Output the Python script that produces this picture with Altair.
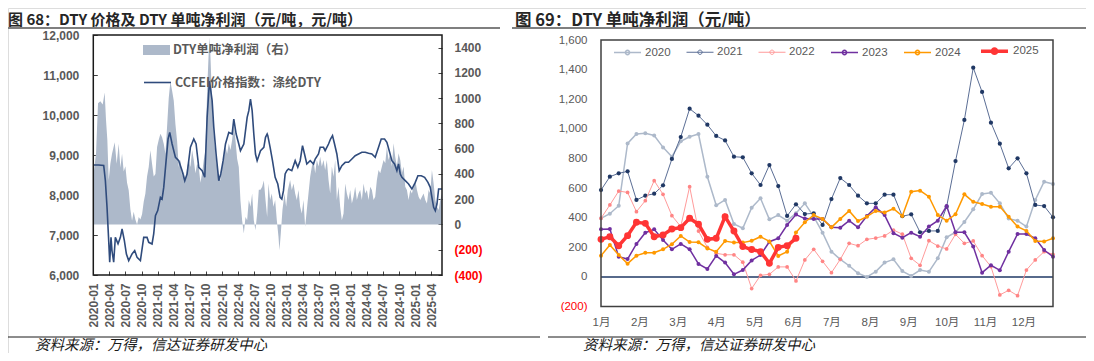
import altair as alt
import pandas as pd

# ---------------- Left panel data (month index from 2020-01) ----------------
PRICE_NAME = "CCFEI价格指数：涤纶DTY"
PROFIT_NAME = "DTY单吨净利润（右）"

price_month = [0, 1.0, 1.94, 2.25, 2.56, 2.87, 3.06, 3.3, 3.49, 3.8, 4.11, 4.61, 5.05, 5.36, 5.79,
               6.17, 6.6, 7.22, 7.72, 8.16, 8.78, 9.4, 10.02, 10.33, 10.95, 11.26, 11.58, 12.01,
               12.51, 12.82, 13.13, 13.57, 13.94, 14.25, 14.69, 15.31, 15.93, 16.55, 17.05, 17.48,
               18.1, 18.73, 19.16, 19.66, 20.28, 20.78, 21.22, 21.65, 21.9, 22.15, 22.46, 22.89,
               23.39, 23.76, 24.2, 24.64, 25.26, 25.88, 26.19, 26.63, 27.12, 27.43, 28.06, 28.68,
               28.99, 29.3, 29.61, 29.92, 30.23, 30.54, 31.17, 31.79, 32.1, 32.41, 32.53, 32.96,
               33.4, 33.9, 34.39, 34.83, 35.14, 35.45, 35.76, 36.07, 36.38, 37.0, 37.63, 38.12,
               38.56, 39.0, 39.37, 39.8, 40.43, 41.05, 41.36, 41.98, 42.29, 42.91, 43.22, 43.85,
               44.22, 44.59, 44.97, 45.4, 45.84, 46.33, 46.96, 47.58, 48.2, 48.82, 49.44, 50.06,
               50.69, 51.31, 51.93, 52.55, 53.17, 53.67, 54.29, 54.73, 55.16, 55.66, 56.16, 56.59,
               56.9, 57.22, 57.53, 58.15, 58.77, 59.39, 60.02, 60.51, 61.13, 61.76, 62.38, 62.81,
               63.12, 63.44, 63.75, 64.06, 64.37, 65.0]
price_value = [8750, 8750, 8740, 8360, 7690, 6860, 6320, 6940, 6600, 6320, 6940, 6780, 6940, 7150, 6860,
               6525, 6360, 6525, 6610, 6440, 6360, 6940, 6940, 6817, 6775, 7025, 7480, 7610,
               7940, 7900, 8190, 8860, 9400, 9567, 9275, 8942, 8858, 8608, 8358, 8525,
               9192, 9400, 9275, 8692, 8608, 8442, 9942, 10850, 10608, 10358, 9692, 9025,
               8358, 8525, 8858, 9275, 9567, 9525, 9900, 9525, 9275, 9108, 9275, 9942,
               10108, 10400, 10108, 9525, 9025, 8858, 9108, 9192, 9442, 9525, 9483, 9192,
               8858, 8442, 8275, 7942, 7900, 8108, 8525, 8608, 8650, 8608, 8858, 8692,
               8858, 9233, 9025, 8775, 8858, 8775, 8900, 9025, 9192, 9192, 9108, 9275,
               9400, 9483, 9275, 9025, 8608, 8733, 8817, 8817, 8900, 8983, 9025, 9067,
               9067, 9042, 9025, 8942, 9192, 9400, 9400, 9317, 9108, 8858, 8775, 8608,
               8775, 8525, 8442, 8358, 8275, 8150, 8317, 8483, 8483, 8442, 8317, 8192,
               7942, 7692, 7608, 7775, 8150, 8150]

profit_month = [0, 0.51, 0.88, 1.31, 1.75, 2.12, 2.37, 2.62, 2.87, 3.18, 3.49, 3.99, 4.36, 4.73, 5.05,
                5.36, 5.67, 5.98, 6.29, 6.6, 6.91, 7.22, 7.53, 7.84, 8.16, 8.47, 8.78, 9.09, 9.4,
                9.71, 10.02, 10.33, 10.64, 10.95, 11.26, 11.58, 11.89, 12.2, 12.51, 12.82, 13.13,
                13.44, 13.75, 14.06, 14.37, 14.69, 15.0, 15.31, 15.62, 15.93, 16.24, 16.55, 16.86,
                17.17, 17.48, 17.8, 18.1, 18.42, 18.73, 19.04, 19.35, 19.66, 19.97, 20.28, 20.59,
                20.9, 21.22, 21.53, 21.71, 22.02, 22.27, 22.52, 22.89, 23.27, 23.7, 24.01, 24.32,
                24.64, 24.95, 25.26, 25.57, 25.88, 26.19, 26.5, 26.81, 27.12, 27.43, 27.75, 28.06,
                28.37, 28.68, 28.99, 29.3, 29.61, 29.92, 30.23, 30.54, 30.85, 31.17, 31.48, 31.79,
                32.1, 32.41, 32.65, 32.96, 33.27, 33.58, 33.9, 34.21, 34.52, 34.7, 34.95, 35.26,
                35.64, 35.95, 36.26, 36.69, 37.0, 37.32, 37.63, 37.94, 38.25, 38.56, 38.87, 39.18,
                39.49, 39.8, 40.11, 40.43, 40.74, 41.05, 41.36, 41.67, 41.98, 42.29, 42.6, 42.91,
                43.22, 43.53, 43.85, 44.16, 44.47, 44.78, 45.09, 45.4, 45.71, 46.02, 46.33, 46.65,
                46.96, 47.27, 47.58, 47.89, 48.2, 48.51, 48.82, 49.13, 49.44, 49.75, 50.06, 50.38,
                50.69, 51.0, 51.31, 51.62, 51.93, 52.24, 52.55, 52.86, 53.17, 53.49, 53.8, 54.11,
                54.42, 54.73, 55.04, 55.35, 55.66, 55.97, 56.28, 56.59, 56.9, 57.22, 57.53, 57.84,
                58.15, 58.46, 58.77, 59.08, 59.39, 59.7, 60.02, 60.33, 60.64, 60.95, 61.26, 61.57,
                61.88, 62.19, 62.5, 62.81, 63.12, 63.44, 63.75, 64.06, 64.37, 64.68, 65.0]
profit_value = [380, 563, 960, 976, 950, 1045, 827, 669, 350, 480, 560, 650, 480, 640, 450,
                560, 420, 460, 330, 270, 120, 30, 100, 40, 0, 60, 40, 80, 180,
                246, 380, 455, 587, 480, 380, 400, 613, 670, 719, 690, 640,
                560, 772, 1000, 1132, 1058, 979, 794, 660, 455, 510, 380, 420,
                349, 450, 510, 455, 587, 510, 405, 480, 455, 330, 405, 510,
                587, 1058, 1380, 1480, 1119, 854, 669, 510, 405, 349, 455, 510,
                616, 560, 643, 590, 669, 802, 669, 520, 455, 190, 30, -71,
                60, 34, 193, 140, 246, 34, -45, 87, 275, 275, 299, 349,
                193, 60, 325, 193, 246, 140, 193, 34, -97, -204, -71, 114,
                246, 140, 272, 352, 272, 325, 246, 193, 272, 140, 87, 193,
                -18, 114, 246, 378, 458, 510, 405, 510, 458, 537, 458, 510,
                431, 510, 352, 246, 458, 378, 510, 193, 299, 140, 34, 87,
                325, 246, 193, 272, 167, 220, 299, 193, 246, 272, 193, 325,
                246, 272, 193, 299, 272, 193, 220, 352, 431, 405, 458, 510,
                484, 616, 510, 563, 458, 643, 537, 458, 563, 510, 405, 458,
                299, 272, 193, 272, 246, 299, 352, 272, 220, 193, 220, 246,
                193, 167, 272, 246, 431, 325, 193, 140, 114, 193, 246]

# ---------------- Right panel data (weekly, 52 weeks) ----------------
years = ["2020", "2021", "2022", "2023", "2024", "2025"]
y2020 = [396, 427, 481, 902, 965, 970, 955, 875, 812, 916, 947, 965, 677, 484, 520, 358, 329, 468,
         531, 389, 418, 380, 430, 497, 407, 299, 171, 119, 76, 25, 0, 36, 97, 119, 40, 7, 47, 36,
         126, 268, 302, 371, 457, 560, 569, 497, 394, 380, 340, 520, 643, 628]
y2021 = [587, 677, 700, 713, 520, 549, 562, 619, 797, 945, 1136, 1089, 1028, 952, 922, 812, 808, 700,
         621, 756, 614, 412, 491, 425, 430, 351, 526, 668, 621, 549, 497, 497, 556, 556, 410, 423,
         302, 311, 311, 475, 783, 1060, 1413, 1249, 1042, 900, 734, 801, 700, 486, 479, 403]
y2022 = [396, 486, 580, 571, 441, 515, 650, 558, 414, 340, 610, 310, 200, 160, 150, 150, 100, -78,
         11, 18, 68, 68, -27, 115, 187, 106, 29, 119, 227, 211, 254, 263, 277, 317, 289, 126, 79,
         245, 209, 189, 288, 227, 243, 144, 70, -121, -90, -126, 47, 115, 171, 153]
y2023 = [322, 324, 137, 121, 223, 299, 322, 250, 187, 223, 187, 88, 54, 142, 97, 18, 47, 112, 148,
         238, 261, 351, 421, 394, 392, 392, 335, 333, 380, 335, 412, 470, 418, 295, 265, 299, 272,
         340, 380, 479, 302, 302, 205, 29, 79, 45, 171, 290, 290, 261, 182, 137]
y2024 = [144, 216, 148, 90, 144, 164, 164, 187, 221, 277, 236, 234, 193, 171, 243, 232, 232, 245,
         272, 240, 142, 171, 300, 370, 418, 392, 335, 392, 446, 378, 407, 446, 435, 461, 412, 576,
         583, 542, 418, 380, 423, 558, 508, 493, 475, 475, 407, 340, 311, 243, 239, 261]
y2025 = [254, 272, 211, 279, 369, 362, 272, 284, 324, 333, 396, 356, 254, 261, 407, 310, 205, 185,
         171, 92, 200, 211, 261]

line_colors = ["#ADB9CA", "#5B6E95", "#FF9B9B", "#7030A0", "#FF9900", "#FF3535"]
dot_colors = ["#ADB9CA", "#203864", "#FF8585", "#7030A0", "#FF9900", "#FF3535"]
line_widths = [1.5, 1.0, 1.0, 1.5, 1.5, 3.5]
dot_sizes = [16, 18, 14, 16, 16, 48]

TITLE_L = "图 68：DTY 价格及 DTY 单吨净利润（元/吨，元/吨）"
TITLE_R = "图 69：DTY 单吨净利润（元/吨）"
SOURCE = "资料来源：万得，信达证券研发中心"

# ---------------- build tables ----------------
price_df = pd.DataFrame({"m": price_month, "v": price_value, "s": PRICE_NAME})
profit_df = pd.DataFrame({"m": profit_month, "v": profit_value, "s": PROFIT_NAME})
rows = []
for yr, vals in zip(years, [y2020, y2021, y2022, y2023, y2024, y2025]):
    for i, v in enumerate(vals):
        rows.append({"w": i, "v": v, "year": yr})
week_df = pd.DataFrame(rows)

W, H = 1078, 345
LAT = "Liberation Sans"
CJK = "Noto Sans CJK SC"
MIX = "Liberation Sans, Noto Sans CJK SC"
GRAY = "#595959"
NEG = {"condition": {"test": "datum.value < 0", "value": "#FF0000"}, "value": GRAY}

# ---------------- left panel ----------------
L_X0, L_X1, L_Y0, L_Y1 = 85.3, 434, 27, 267
lx = alt.X("m:Q",
           scale=alt.Scale(domain=[0, 65], range=[L_X0, L_X1], nice=False, zero=False),
           axis=alt.Axis(orient="bottom", offset=(L_Y1 - 4) - H, values=list(range(0, 64, 3)),
                         labelExpr="(2020 + floor(datum.value / 12)) + '-' + ((datum.value % 12) + 1 < 10 ? '0' : '') + ((datum.value % 12) + 1)",
                         labelAngle=270, domain=False, grid=False, ticks=True, tickSize=4,
                         tickColor="#404040", labelPadding=8, labelFont=LAT, labelFontSize=12,
                         labelFontWeight="bold", labelColor=GRAY, labelFlush=False,
                         labelOverlap=False, title=None))
ly_price = alt.Y("v:Q",
                 scale=alt.Scale(domain=[6000, 12000], range=[L_Y1, L_Y0], nice=False, zero=False),
                 axis=alt.Axis(orient="left", offset=-(L_X0 + 4), values=list(range(6000, 12001, 1000)),
                               labelExpr="format(datum.value, ',')", domain=False, grid=False,
                               ticks=True, tickSize=4, tickColor="#404040", labelPadding=14.5,
                               labelFont=LAT, labelFontSize=12, labelFontWeight="bold",
                               labelColor=GRAY, labelFlush=False, labelOverlap=False, title=None))
ly_profit = alt.Y("v:Q",
                  scale=alt.Scale(domain=[-400, 1500], range=[L_Y1, L_Y0], nice=False),
                  axis=alt.Axis(orient="right", offset=(L_X1 - 4) - W, values=list(range(-400, 1401, 200)),
                                labelExpr="datum.value < 0 ? '(' + (-datum.value) + ')' : '' + datum.value",
                                domain=False, grid=False, ticks=True, tickSize=4, tickColor="#404040",
                                labelPadding=12, labelFont=LAT, labelFontSize=12, labelFontWeight="bold",
                                labelColor=NEG, labelFlush=False, labelOverlap=False, title=None))

area = alt.Chart(profit_df).mark_area(opacity=1, interpolate="linear").encode(
    x=lx, y=ly_profit, y2=alt.datum(0),
    fill=alt.Fill("s:N", scale=alt.Scale(domain=[PROFIT_NAME], range=["#ADB9CA"]),
                  legend=alt.Legend(title=None, orient="none", legendX=135, legendY=28.5,
                                    symbolType="M-1,-0.37H1V0.37H-1Z", symbolSize=729,
                                    symbolStrokeWidth=0, labelFont=CJK, labelFontSize=12.5,
                                    labelFontWeight="bold", labelColor=GRAY, labelOffset=3, padding=0)),
)
price_line = alt.Chart(price_df).mark_line(strokeWidth=1.6).encode(
    x=lx, y=ly_price,
    stroke=alt.Stroke("s:N", scale=alt.Scale(domain=[PRICE_NAME], range=["#2F4B7C"]),
                      legend=alt.Legend(title=None, orient="none", legendX=135, legendY=60,
                                        symbolType="stroke", symbolSize=729, symbolStrokeWidth=1.6,
                                        labelFont=CJK, labelFontSize=12.5, labelFontWeight="bold",
                                        labelColor=GRAY, labelOffset=3, padding=0)),
)
left = alt.layer(area, price_line).resolve_scale(y="independent")

# ---------------- right panel ----------------
R_X0, R_X1, R_Y0, R_Y1 = 593, 1045, 32, 298.6
rx = alt.X("w:Q",
           scale=alt.Scale(domain=[0, 51], range=[R_X0, R_X1], nice=False, zero=False),
           axis=alt.Axis(orient="bottom", offset=R_Y1 - H, values=[i * 52 / 12 for i in range(12)],
                         labelExpr="round(datum.value * 12 / 52) + 1 + '月'", domain=False, grid=False,
                         ticks=False, tickSize=0, labelPadding=10, labelFont=MIX, labelFontSize=11.5,
                         labelColor=GRAY, labelFlush=False, labelOverlap=False, title=None))
ry = alt.Y("v:Q",
           scale=alt.Scale(domain=[-200, 1600], range=[R_Y1, R_Y0], nice=False, zero=False),
           axis=alt.Axis(orient="left", offset=-R_X0, values=list(range(-200, 1601, 200)),
                         labelExpr="datum.value < 0 ? '(' + format(-datum.value, ',') + ')' : format(datum.value, ',')",
                         domain=False, grid=False, ticks=False, tickSize=0, labelPadding=14,
                         labelFont=LAT, labelFontSize=11.5, labelColor=NEG, labelFlush=False,
                         labelOverlap=False, title=None))

color_scale = alt.Scale(domain=years, range=line_colors)
sw_scale = alt.Scale(type="ordinal", domain=years, range=line_widths)
r_legend = alt.Legend(title=None, orient="none", legendX=605, legendY=27.5, direction="horizontal",
                      symbolType="M-1,0L1,0M0.16,0A0.16,0.16,0,1,1,-0.16,0A0.16,0.16,0,1,1,0.16,0",
                      symbolSize=729, labelFont=LAT, labelFontSize=11.5, labelColor=GRAY,
                      labelOffset=3, columnPadding=13, padding=0)

zero_df = pd.DataFrame({"w": [0], "w2": [51], "v": [0]})
zero_rule = alt.Chart(zero_df).mark_rule(color="#1F3864", strokeWidth=1.5).encode(
    x=rx, x2="w2:Q", y=ry)

year_layers = []
for k, yr in enumerate(years):
    ln = alt.Chart(week_df).transform_filter(alt.datum.year == yr).mark_line().encode(
        x=rx, y=ry,
        color=alt.Color("year:O", scale=color_scale, legend=r_legend),
        strokeWidth=alt.StrokeWidth("year:O", scale=sw_scale),
    )
    pt = alt.Chart(week_df).transform_filter(alt.datum.year == yr).mark_circle(
        size=dot_sizes[k], opacity=1, color=dot_colors[k]).encode(x=rx, y=ry)
    year_layers += [ln, pt]

right = alt.layer(zero_rule, *year_layers)

# ---------------- decorations ----------------
one = pd.DataFrame({"a": [0]})


def txt(s, x, y, **kw):
    return alt.Chart(pd.DataFrame({"t": [s]})).mark_text(align="left", **kw).encode(
        x=alt.value(x), y=alt.value(y), text="t:N")


def hrule(x0, x1, y, color, w):
    return alt.Chart(one).mark_rule(color=color, strokeWidth=w).encode(
        x=alt.value(x0), x2=alt.value(x1), y=alt.value(y))


def frame(x0, x1, y0, y1, color):
    return alt.Chart(one).mark_rect(fillOpacity=0, stroke=color, strokeWidth=1.5).encode(
        x=alt.value(x0), x2=alt.value(x1), y=alt.value(y0), y2=alt.value(y1))


decos = [
    frame(L_X0, L_X1, L_Y0, L_Y1, "#1A1A1A"),
    frame(R_X0, R_X1, R_Y0, R_Y1, "#404040"),
    txt(TITLE_L, 0, 17.2, baseline="alphabetic", font=CJK, fontSize=15, fontWeight="bold", color="#262626"),
    txt(TITLE_R, 507, 17.8, baseline="alphabetic", font=CJK, fontSize=16.5, fontWeight="bold", color="#262626"),
    hrule(0, 492, 20, "#7F7F7F", 2),
    hrule(504, 1078, 20, "#7F7F7F", 2),
    hrule(0, 532, 329, "#1A1A1A", 1),
    hrule(540, 1078, 329, "#1A1A1A", 1),
    txt(SOURCE, 27, 338, baseline="middle", font=CJK, fontSize=14.5, fontStyle="italic", color="#1A1A1A"),
    txt(SOURCE, 575, 338, baseline="middle", font=CJK, fontSize=14.5, fontStyle="italic", color="#1A1A1A"),
]

chart = alt.layer(left, right, *decos).resolve_scale(
    x="independent", y="independent"
).properties(
    width=W, height=H, autosize=alt.AutoSizeParams(type="none"), padding=0
).configure_view(stroke=None).configure(background="white")

chart.save("out.html", embed_options={"renderer": "svg", "actions": False})
